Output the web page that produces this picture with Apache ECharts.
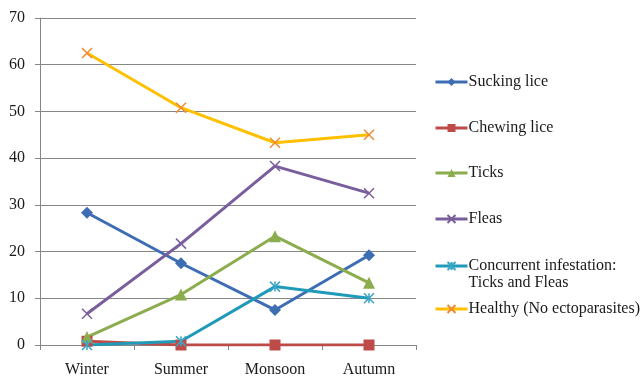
<!DOCTYPE html>
<html>
<head>
<meta charset="utf-8">
<script src="https://cdn.jsdelivr.net/npm/echarts@6/dist/echarts.min.js"></script>
<style>
  html, body { margin: 0; padding: 0; background: #fff; }
  #chart { width: 644px; height: 378px; }
</style>
</head>
<body>
<div id="chart"></div>
<script>
// data
const seasons = ['Winter', 'Summer', 'Monsoon', 'Autumn'];
const suckingLice = [28.3, 17.5, 7.5, 19.2];
const chewingLice = [0.8, 0, 0, 0];
const ticks = [1.7, 10.8, 23.3, 13.3];
const fleas = [6.7, 21.7, 38.3, 32.5];
const concurrent = [0, 0.8, 12.5, 10];
const healthy = [62.5, 50.8, 43.3, 45];
const seriesNames = ['Sucking lice', 'Chewing lice', 'Ticks', 'Fleas',
  'Concurrent infestation:\nTicks and Fleas', 'Healthy (No ectoparasites)'];

const crossPath = 'path://M0,0L10,10M10,0L0,10';
const starPath = 'path://M0,0L10,10M10,0L0,10M5,0L5,10';
const font = '"Liberation Serif", "Times New Roman", serif';

function line(name, data, color, symbol, markColor, size) {
  const stroke = symbol.indexOf('path://') === 0;
  return {
    name: name,
    type: 'line',
    data: data,
    symbol: symbol,
    symbolSize: size,
    lineStyle: { color: color, width: 3 },
    itemStyle: stroke
      ? { color: 'rgba(0,0,0,0)', borderColor: markColor, borderWidth: 1.5 }
      : { color: markColor, borderColor: markColor, borderWidth: 0 },
    emphasis: { disabled: true },
    animation: false
  };
}

// legend item centres (y) on the right
const legendY = [81, 127, 172, 218, 264, 308];
const legends = seriesNames.map(function (n, i) {
  const twoLine = n.indexOf('\n') >= 0;
  return {
    data: [n],
    left: 434,
    top: twoLine ? legendY[i] - 23 : legendY[i] - 7,
    orient: 'vertical',
    itemWidth: 32,
    itemHeight: 10,
    itemGap: 0,
    padding: 0,
    selectedMode: false,
    lineStyle: { width: 3 },
    formatter: twoLine ? function (t) { return '{a|' + t + '}'; } : '{name}',
    textStyle: {
      fontFamily: font, fontSize: 16, color: '#1a1a1a', padding: [0, 0, 0, -4],
      rich: twoLine ? { a: { fontFamily: font, fontSize: 16, color: '#1a1a1a', lineHeight: 17, padding: [17, 0, 0, 0] } } : undefined
    }
  };
});

const option = {
  backgroundColor: '#fff',
  animation: false,
  legend: legends,
  grid: { left: 40, top: 18, right: 228, bottom: 32 },
  xAxis: {
    type: 'category',
    data: seasons,
    boundaryGap: true,
    axisLine: { lineStyle: { color: '#868686', width: 1 } },
    axisTick: { show: true, length: 5, lineStyle: { color: '#868686' } },
    axisLabel: { fontFamily: font, fontSize: 16, color: '#1a1a1a', margin: 17 }
  },
  yAxis: {
    type: 'value',
    min: 0,
    max: 70,
    interval: 10,
    axisLine: { show: true, lineStyle: { color: '#868686', width: 1 } },
    axisTick: { show: true, length: 5, lineStyle: { color: '#868686' } },
    splitLine: { lineStyle: { color: '#868686', width: 1 } },
    axisLabel: { fontFamily: font, fontSize: 16, color: '#1a1a1a', margin: 15 }
  },
  series: [
    line(seriesNames[0], suckingLice, '#3d6eb4', 'diamond', '#3d6eb4', 12),
    line(seriesNames[1], chewingLice, '#be4b48', 'rect', '#be4b48', 11),
    line(seriesNames[2], ticks, '#8cad4e', 'triangle', '#8cad4e', 12),
    line(seriesNames[3], fleas, '#7a5e9c', crossPath, '#7a5e9c', 10),
    line(seriesNames[4], concurrent, '#1f9ab8', starPath, '#3aa6c6', 10),
    line(seriesNames[5], healthy, '#ffc000', crossPath, '#f08a32', 10)
  ]
};

const myChart = echarts.init(document.getElementById('chart'));
myChart.setOption(option);
</script>
</body>
</html>
